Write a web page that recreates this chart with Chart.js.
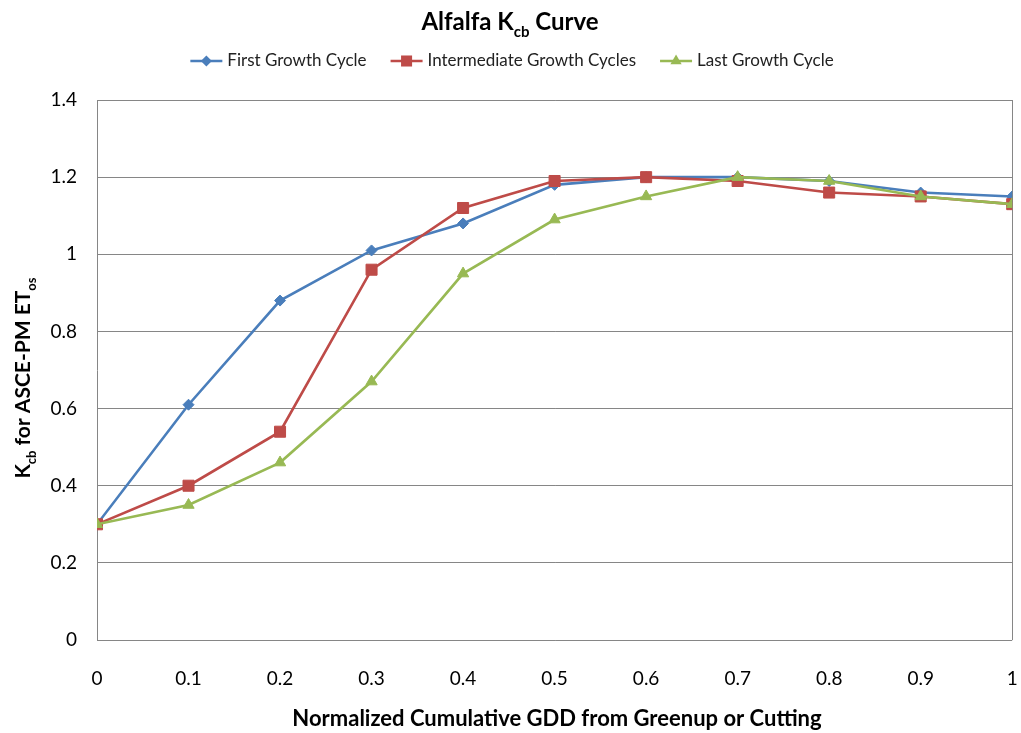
<!DOCTYPE html>
<html>
<head>
<meta charset="utf-8">
<title>Alfalfa Kcb Curve</title>
<script src="https://cdn.jsdelivr.net/npm/chart.js@4/dist/chart.umd.min.js"></script>
<style>
  html, body { margin: 0; padding: 0; background: #fff; }
  #wrap { width: 1021px; height: 733px; position: relative; }
</style>
</head>
<body>
<div id="wrap"><canvas id="c" width="1021" height="733"></canvas></div>
<script>
// Normalized cumulative GDD (x) and basal crop coefficients (y)
const gdd = [0, 0.1, 0.2, 0.3, 0.4, 0.5, 0.6, 0.7, 0.8, 0.9, 1.0];
const firstCycle        = [0.30, 0.61, 0.88, 1.01, 1.08, 1.18, 1.20, 1.20, 1.19, 1.16, 1.15];
const intermediateCycle = [0.30, 0.40, 0.54, 0.96, 1.12, 1.19, 1.20, 1.19, 1.16, 1.15, 1.13];
const lastCycle         = [0.30, 0.35, 0.46, 0.67, 0.95, 1.09, 1.15, 1.20, 1.19, 1.15, 1.13];
const seriesNames = ['First Growth Cycle', 'Intermediate Growth Cycles', 'Last Growth Cycle'];
const xTicks = [0, 0.1, 0.2, 0.3, 0.4, 0.5, 0.6, 0.7, 0.8, 0.9, 1];
const yTicks = [0, 0.2, 0.4, 0.6, 0.8, 1, 1.2, 1.4];

const FONT = 'Lato, "Open Sans", sans-serif';
const GRID = '#868686';

const toPoints = vals => vals.map((v, i) => ({ x: gdd[i], y: v }));

// Later series are painted over earlier ones (lower order = on top)
function series(label, vals, color, style, radius, order) {
  return {
    label, data: toPoints(vals), order,
    borderColor: color, backgroundColor: color,
    borderWidth: 2.6, pointStyle: style, pointRadius: radius,
    pointHoverRadius: radius, pointBorderWidth: 1, pointBorderColor: color,
    tension: 0
  };
}

// Draw a run of text pieces, some of them subscripted
function drawRich(ctx, parts, x, y, size, weight, align) {
  const subSize = Math.round(size * 0.62);
  const widths = parts.map(p => {
    ctx.font = `${weight} ${p.sub ? subSize : size}px ${FONT}`;
    return ctx.measureText(p.t).width;
  });
  const total = widths.reduce((a, b) => a + b, 0);
  let cx = align === 'center' ? x - total / 2 : x;
  ctx.textBaseline = 'alphabetic';
  ctx.textAlign = 'left';
  parts.forEach((p, i) => {
    ctx.font = `${weight} ${p.sub ? subSize : size}px ${FONT}`;
    ctx.fillText(p.t, cx, p.sub ? y + size * 0.28 : y);
    cx += widths[i];
  });
}

function drawMarker(ctx, style, x, y, r) {
  ctx.beginPath();
  if (style === 'rectRot') {
    ctx.moveTo(x, y - r); ctx.lineTo(x + r, y); ctx.lineTo(x, y + r); ctx.lineTo(x - r, y);
  } else if (style === 'rect') {
    const s = r * Math.SQRT1_2;
    ctx.rect(x - s, y - s, 2 * s, 2 * s);
  } else {
    ctx.moveTo(x, y - r);
    ctx.lineTo(x + r * 0.866, y + r * 0.5);
    ctx.lineTo(x - r * 0.866, y + r * 0.5);
  }
  ctx.closePath();
  ctx.fill();
}

const textPlugin = {
  id: 'kcbText',
  afterDraw(chart) {
    const ctx = chart.ctx;
    ctx.save();
    ctx.fillStyle = '#000';

    // Title
    drawRich(ctx, [{ t: 'Alfalfa K' }, { t: 'cb', sub: true }, { t: ' Curve' }], 510, 30, 24, 'bold', 'center');

    // Legend: line sample with marker, then label
    const legendSize = 17;
    ctx.font = `${legendSize}px ${FONT}`;
    const sample = 32, gapText = 5, gapItem = 24;
    const items = chart.data.datasets.map(ds => ({
      ds, w: sample + gapText + ctx.measureText(ds.label).width
    }));
    const total = items.reduce((a, it) => a + it.w, 0) + gapItem * (items.length - 1);
    let lx = 512 - total / 2;
    const ly = 61;
    items.forEach(it => {
      const ds = it.ds;
      ctx.strokeStyle = ds.borderColor;
      ctx.fillStyle = ds.borderColor;
      ctx.lineWidth = 2.6;
      ctx.beginPath(); ctx.moveTo(lx, ly); ctx.lineTo(lx + sample, ly); ctx.stroke();
      drawMarker(ctx, ds.pointStyle, lx + sample / 2, ly, ds.pointRadius);
      ctx.fillStyle = '#222';
      ctx.font = `${legendSize}px ${FONT}`;
      ctx.textAlign = 'left'; ctx.textBaseline = 'middle';
      ctx.fillText(ds.label, lx + sample + gapText, ly);
      lx += it.w + gapItem;
    });

    // Axis titles
    ctx.fillStyle = '#000';
    drawRich(ctx, [{ t: 'Normalized Cumulative GDD from Greenup or Cutting' }], 557, 726, 22, 'bold', 'center');
    ctx.translate(30, 378);
    ctx.rotate(-Math.PI / 2);
    drawRich(ctx, [{ t: 'K' }, { t: 'cb', sub: true }, { t: ' for ASCE-PM ET' }, { t: 'os', sub: true }], 0, 0, 21, 'bold', 'center');
    ctx.restore();
  }
};

new Chart(document.getElementById('c'), {
  type: 'line',
  data: {
    datasets: [
      series(seriesNames[0], firstCycle, '#4A7EBB', 'rectRot', 5.5, 3),
      series(seriesNames[1], intermediateCycle, '#BE4B48', 'rect', 7.8, 2),
      series(seriesNames[2], lastCycle, '#98B954', 'triangle', 6.5, 1)
    ]
  },
  options: {
    responsive: false,
    animation: false,
    layout: { padding: { top: 100, right: 7, left: 0, bottom: 0 } },
    plugins: { legend: { display: false }, title: { display: false }, tooltip: { enabled: false } },
    scales: {
      x: {
        type: 'linear', min: 0, max: 1,
        afterBuildTicks: s => { s.ticks = xTicks.map(v => ({ value: v })); },
        afterFit: s => { s.height = 93; s.paddingLeft = 0; s.paddingRight = 0; },
        grid: {
          drawTicks: false,
          color: c => (c.tick && c.tick.value === 1 ? GRID : 'rgba(0,0,0,0)'),
          lineWidth: 1
        },
        border: { display: false },
        ticks: {
          padding: 27, color: '#000', font: { family: FONT, size: 19 },
          maxRotation: 0, autoSkip: false,
          callback: v => String(+v.toFixed(1))
        }
      },
      y: {
        min: 0, max: 1.4,
        afterBuildTicks: s => { s.ticks = yTicks.map(v => ({ value: v })); },
        afterFit: s => { s.width = 97; s.paddingTop = 0; s.paddingBottom = 0; },
        grid: { drawTicks: false, color: GRID, lineWidth: 1 },
        border: { display: true, color: GRID, width: 1 },
        ticks: {
          padding: 20, color: '#000', font: { family: FONT, size: 19 },
          callback: v => String(+v.toFixed(1))
        }
      }
    }
  },
  plugins: [textPlugin]
});
</script>
</body>
</html>
